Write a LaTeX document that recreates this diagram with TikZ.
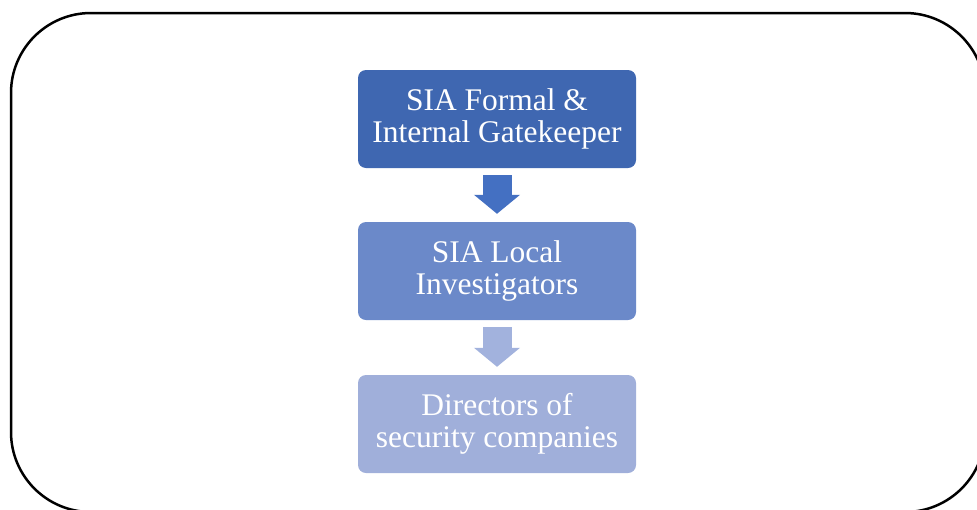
\documentclass[tikz,border=0pt]{standalone}
\usepackage{fontspec}
\setmainfont{Liberation Serif}
\usetikzlibrary{arrows.meta}
\definecolor{stepA}{HTML}{3F67B1}
\definecolor{stepB}{HTML}{6B89C9}
\definecolor{stepC}{HTML}{A0AFDA}
\definecolor{flowA}{HTML}{4470C2}
\definecolor{flowB}{HTML}{A2B2DD}
\tikzset{
  stepbox/.style={rounded corners=8pt, minimum width=278pt, minimum height=98pt,
    text=white, align=center, inner sep=0pt,
    font=\fontsize{31.5pt}{32pt}\selectfont},
  flow/.style={line width=29pt, shorten <=7pt, shorten >=8pt,
    -{Triangle[length=19pt,width=45pt]}},
}
\begin{document}
\begin{tikzpicture}[x=1pt,y=-1pt]
  \useasboundingbox (0,0) rectangle (977,509);
  % outer frame, partly running off the page
  \draw[line width=2.5pt, rounded corners=80pt] (11,13) rectangle (985,512);
  % the three steps
  \node[stepbox, fill=stepA] (b1) at (497,119) {SIA Formal \&\\Internal Gatekeeper};
  \node[stepbox, fill=stepB] (b2) at (497,271) {SIA Local\\Investigators};
  \node[stepbox, fill=stepC] (b3) at (497,424) {Directors of\\security companies};
  % block arrows between steps
  \draw[flow, flowA] (b1.south) -- (b2.north);
  \draw[flow, flowB] (b2.south) -- (b3.north);
\end{tikzpicture}
\end{document}
